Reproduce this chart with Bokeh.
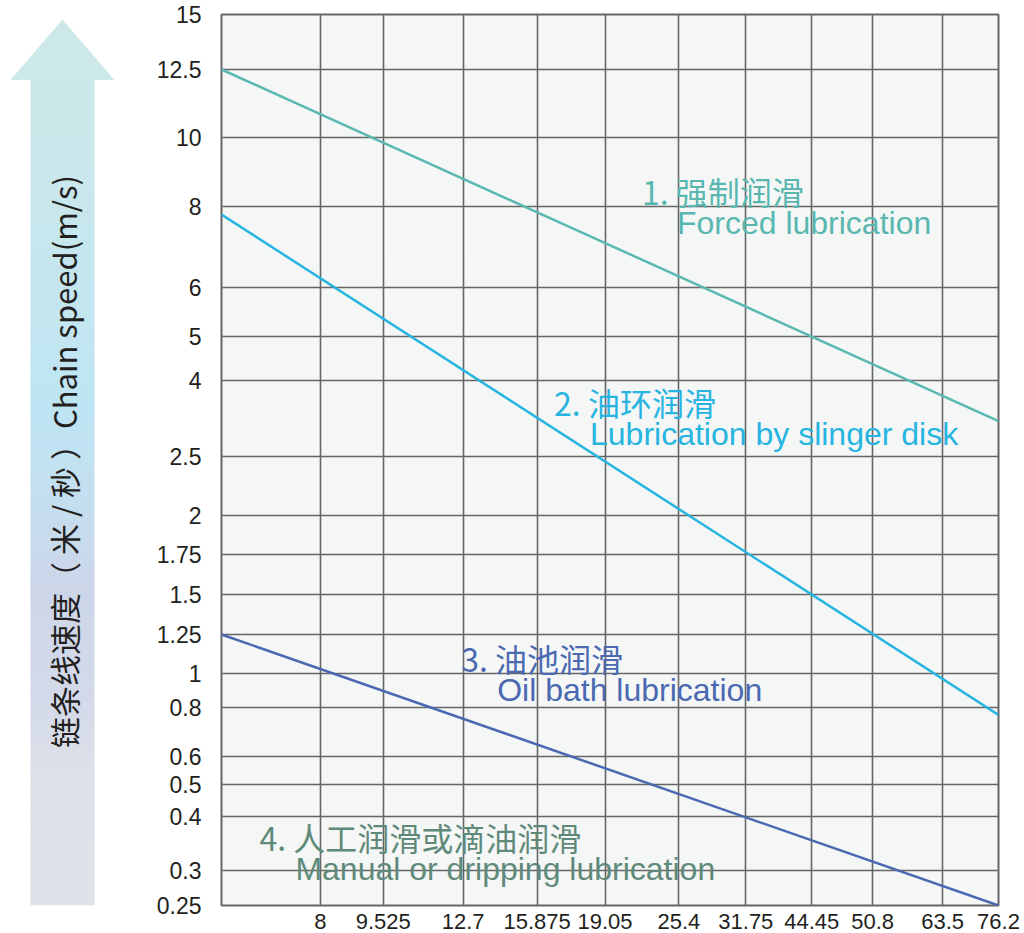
import numpy as np
from bokeh.plotting import figure
from bokeh.models import Range1d, FixedTicker, Label
from bokeh.layouts import row
from bokeh.embed import file_html
from bokeh.resources import INLINE

# ---------------- data ----------------
PITCH_START = 6.35
PITCH_VALUES = [8, 9.525, 12.7, 15.875, 19.05, 25.4, 31.75, 44.45, 50.8, 63.5, 76.2]
PITCH_LABELS = ["8", "9.525", "12.7", "15.875", "19.05", "25.4", "31.75", "44.45", "50.8", "63.5", "76.2"]

SPEED_TICKS = [0.25, 0.3, 0.4, 0.5, 0.6, 0.8, 1, 1.25, 1.5, 1.75, 2, 2.5, 4, 5, 6, 8, 10, 12.5, 15]
SPEED_LABELS = ["0.25", "0.3", "0.4", "0.5", "0.6", "0.8", "1", "1.25", "1.5", "1.75", "2", "2.5",
                "4", "5", "6", "8", "10", "12.5", "15"]

line_pitch = [6.35, 76.2]
forced_speed = [12.5, 3.2]
slinger_speed = [7.8, 0.77]
oil_bath_speed = [1.25, 0.25]

# ---------------- the chart's own irregular scale (grid layout inside the frame, px) ----------------
X_GRID_POS = [0, 99, 162, 242, 316, 384, 458, 525, 591, 652, 722, 778]
Y_GRID_POS = [0, 35, 89, 121, 149, 198, 232, 271, 311, 351, 390, 449, 525, 569, 618, 699, 768, 836, 891]

X_ALL = [PITCH_START] + PITCH_VALUES


def xmap(v):
    return [float(t) for t in np.atleast_1d(np.interp(v, X_ALL, X_GRID_POS))]


def ymap(v):
    return [float(t) for t in np.atleast_1d(np.interp(v, SPEED_TICKS, Y_GRID_POS))]


FRAME_W, FRAME_H = 778, 891
BL, BR, BT, BB = 67, 22, 14, 27
H = BT + FRAME_H + BB
W = BL + FRAME_W + BR

p = figure(width=W, height=H, output_backend="svg", toolbar_location=None,
           x_range=Range1d(0, FRAME_W), y_range=Range1d(0, FRAME_H),
           min_border_left=BL, min_border_right=BR, min_border_top=BT, min_border_bottom=BB,
           background_fill_color="#f5f7f7", border_fill_color="white",
           outline_line_color="#666666", outline_line_width=2)

xt = xmap(PITCH_VALUES)
yt = ymap(SPEED_TICKS)
p.xaxis.ticker = FixedTicker(ticks=xt)
p.yaxis.ticker = FixedTicker(ticks=yt)
p.xaxis.major_label_overrides = {t: l for t, l in zip(xt, PITCH_LABELS)}
p.yaxis.major_label_overrides = {t: l for t, l in zip(yt, SPEED_LABELS)}
for ax in (p.xaxis, p.yaxis):
    ax.axis_line_color = None
    ax.major_tick_line_color = None
    ax.minor_tick_line_color = None
    ax.major_label_text_font = "Liberation Sans"
    ax.major_label_text_color = "#231f20"
p.yaxis.major_label_text_font_size = "23px"
p.xaxis.major_label_text_font_size = "22px"
p.yaxis.major_label_standoff = 14
p.xaxis.major_label_standoff = 2

p.xgrid.grid_line_color = "#666666"
p.ygrid.grid_line_color = "#666666"
p.xgrid.grid_line_width = 1.6
p.ygrid.grid_line_width = 1.6

p.line(xmap(line_pitch), ymap(forced_speed), line_color="#5bb8b1", line_width=2.5)
p.line(xmap(line_pitch), ymap(slinger_speed), line_color="#27b5e0", line_width=2.5)
p.line(xmap(line_pitch), ymap(oil_bath_speed), line_color="#4a69b1", line_width=2.5)

CJK = "Noto Sans CJK SC"
LAT = "Liberation Sans"
notes = [
    ("1. 强制润滑", 421, 715, CJK, "#5ab7b0"),
    ("Forced lubrication", 456, 683, LAT, "#5ab7b0"),
    ("2. 油环润滑", 333, 504, CJK, "#27b4e0"),
    ("Lubrication by slinger disk", 369, 472, LAT, "#27b4e0"),
    ("3. 油池润滑", 240, 248, CJK, "#4b69b1"),
    ("Oil bath lubrication", 276, 216, LAT, "#4b69b1"),
    ("4. 人工润滑或滴油润滑", 38, 69, CJK, "#5f8a7a"),
    ("Manual or dripping lubrication", 74, 37, LAT, "#5f8a7a"),
]
for txt, x, y, f, c in notes:
    p.add_layout(Label(x=x, y=y, text=txt, text_font=f, text_font_size="32px",
                       text_color=c, text_align="left", text_baseline="middle"))

# ---------------- left arrow panel (its frame is aligned to the main frame) ----------------
AW = 153
a = figure(width=AW, height=H, output_backend="svg", toolbar_location=None,
           x_range=Range1d(0, AW), y_range=Range1d(BT + FRAME_H, BT),
           min_border=0, outline_line_color=None, border_fill_color="white",
           background_fill_color="white")
a.axis.visible = False
a.grid.visible = False

stops_y = [79, 250, 400, 500, 580, 700, 770, 905]
stops_c = [(0xcd, 0xe8, 0xe9), (0xc7, 0xe7, 0xef), (0xbf, 0xe5, 0xf4), (0xc5, 0xdf, 0xf0),
           (0xcd, 0xd6, 0xea), (0xd4, 0xda, 0xe9), (0xdd, 0xe1, 0xea), (0xdf, 0xe3, 0xe9)]
ys = np.arange(79, 905, 3.0)
cols = []
for y0 in ys:
    r = int(np.interp(y0, stops_y, [s[0] for s in stops_c]))
    g = int(np.interp(y0, stops_y, [s[1] for s in stops_c]))
    b = int(np.interp(y0, stops_y, [s[2] for s in stops_c]))
    cols.append("#%02x%02x%02x" % (r, g, b))
a.quad(left=30, right=94, top=[float(t) for t in ys],
       bottom=[float(t) for t in np.minimum(ys + 3.6, 905)],
       fill_color=cols, line_color=None)
a.patch([10, 62, 114], [79.5, 19, 79.5], fill_color="#cde8e9", line_color=None)
a.add_layout(Label(x=63, y=461, text="链条线速度（ 米 / 秒 ）Chain speed(m/s)",
                   text_font=CJK, text_font_size="31px", text_color="#231f20",
                   angle=np.pi / 2, text_align="center", text_baseline="middle"))

layout = row(a, p)
open("out.html", "w").write(file_html(layout, INLINE))
